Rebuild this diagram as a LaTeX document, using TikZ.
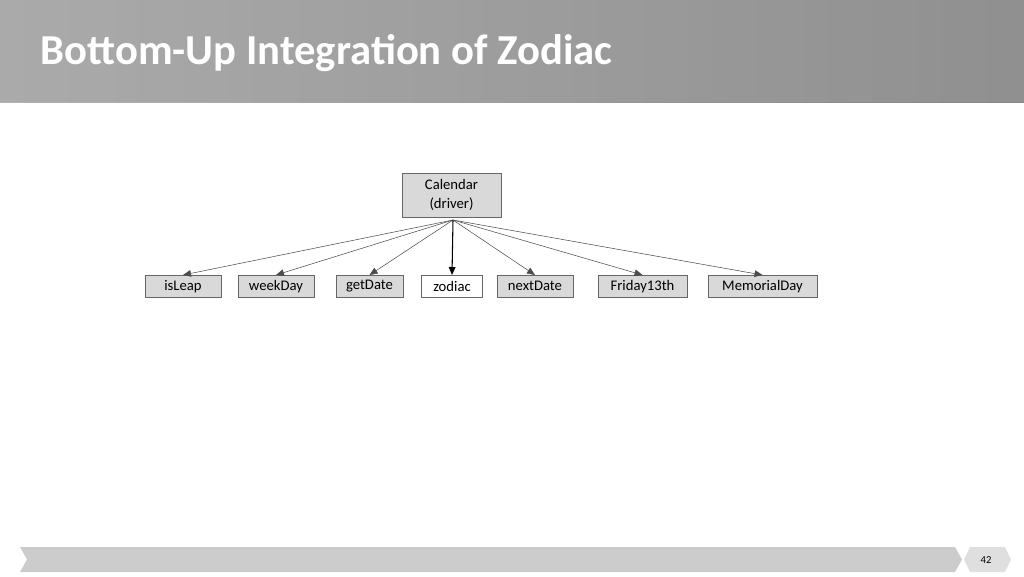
\documentclass[tikz,border=0pt]{standalone}
\usepackage{fontspec}
\setmainfont{Carlito}
\usetikzlibrary{arrows.meta}
\begin{document}
\begin{tikzpicture}[x=0.75pt,y=-0.75pt,
  mod/.style={draw=gray!80!black,fill=gray!30,minimum height=16.5pt,inner sep=2pt,font=\fontsize{11}{13}\selectfont,anchor=north},
  call/.style={-{Triangle[length=6pt,width=5pt]},draw=black!70,line width=0.4pt}]
\useasboundingbox (0,0) rectangle (1024,576);
\shade[top color=gray!65,bottom color=gray!105!black!0,left color=gray!60,right color=gray!95] (0,0) rectangle (1024,102);
\fill[gray!75,opacity=0.4] (0,0) rectangle (1024,102);
\node[anchor=base west,text=white,font=\fontsize{32}{36}\selectfont\bfseries] (title) at (36,64) {Bottom-Up Integration of Zodiac};
\node[draw=gray!80!black,fill=gray!30,minimum width=74pt,minimum height=33pt,align=center,inner sep=1pt,font=\fontsize{11}{14}\selectfont] (cal) at (451.5,195) {Calendar\\(driver)};
\coordinate (src) at (453,220);
\node[mod,minimum width=57pt] (isleap) at (183,275) {isLeap};
\node[mod,minimum width=57pt] (weekday) at (276,275) {weekDay};
\node[mod,minimum width=50pt] (getdate) at (369.5,275) {getDate};
\node[mod,fill=white,minimum width=46pt] (zodiac) at (452,275) {zodiac};
\node[mod,minimum width=57pt] (nextdate) at (535,275) {nextDate};
\node[mod,minimum width=67pt] (friday) at (642.5,275) {Friday13th};
\node[mod,minimum width=82pt] (memorial) at (762.5,275) {MemorialDay};
\draw[call] (src) -- (isleap.north);
\draw[call] (src) -- (weekday.north);
\draw[call] (src) -- (getdate.north);
\draw[call,draw=black,line width=0.8pt] (src) -- (zodiac.north);
\draw[call] (src) -- (nextdate.north);
\draw[call] (src) -- (friday.north);
\draw[call] (src) -- (memorial.north);
\fill[gray!40] (20,547) -- (955,547) -- (962,559.5) -- (955,572) -- (20,572) -- (27,559.5) -- cycle;
\fill[gray!25] (970,547) -- (1005,547) -- (1011,559.5) -- (1005,572) -- (970,572) -- (964,559.5) -- cycle;
\node[font=\fontsize{8}{9}\selectfont] (pg) at (986,560) {42};
\end{tikzpicture}
\end{document}
